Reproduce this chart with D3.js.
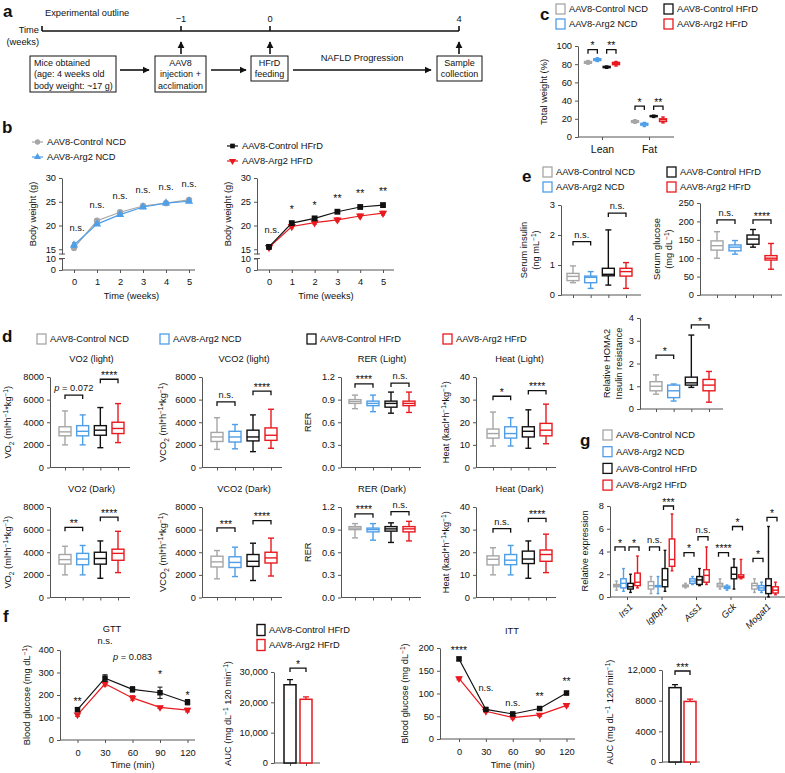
<!DOCTYPE html>
<html><head><meta charset="utf-8">
<script src="https://cdn.jsdelivr.net/npm/d3@7"></script>
<style>body{margin:0;background:#fff}</style>
</head><body>
<svg id="fig" width="785" height="773"></svg>
<script>
// ================= DATA =================
const groups=["AAV8-Control NCD","AAV8-Arg2 NCD","AAV8-Control HFrD","AAV8-Arg2 HFrD"];
const groupColors=["#a6a6a6","#4f9ee8","#111111","#e8191f"];

// panel a – timeline
const timeMarks=["−1","0","4"];

// panel b – body weight (g)
const weeks=[0,1,2,3,4,5];
const bwCtrlNCD=[15.3,21.0,22.8,24.1,24.7,25.4];
const bwArg2NCD=[15.9,20.3,22.3,23.9,24.7,25.1];
const bwCtrlHFrD=[15.5,20.5,21.5,22.9,23.9,24.3];
const bwArg2HFrD=[15.4,19.8,20.6,21.2,22.0,22.6];
const bwErrCtrlNCD=[0.5,0.3,0.3,0.3,0.3,0.3];
const bwErrArg2NCD=[0.5,0.3,0.3,0.3,0.3,0.3];
const bwErrCtrlHFrD=[0.5,0.3,0.3,0.3,0.3,0.3];
const bwErrArg2HFrD=[0.4,0.3,0.4,0.4,0.4,0.4];
const bwSigNCD=["n.s.","n.s.","n.s.","n.s.","n.s.","n.s."];
const bwSigHFrD=["n.s.","*","*","**","**","**"];

// panel c – body composition [min,q1,median,q3,max]
const compCats=["Lean","Fat"];
const compLean=[[80,81,82,83,84],[83,84,85,86,87],[75.5,76.2,77,77.6,78],[78,79.5,81,82,83]];
const compFat=[[15,16,17,18,19],[11.5,13,14,15,16],[21.5,22.3,23,23.5,24],[15.5,17,19,20,22]];
const compLeanSig=[[0,1,96,"*"],[2,3,96,"**"]];
const compFatSig=[[0,1,34,"*"],[2,3,34,"**"]];

// panel d – metabolic cages
const vo2Light=[[2000,2800,3150,3600,5000],[2000,2800,3200,3700,4650],[1750,2850,3300,3700,5300],[2200,3000,3450,4000,5650]];
const vco2Light=[[1600,2300,2700,3100,4400],[1650,2250,2700,3200,3800],[1400,2350,2700,3300,4650],[1700,2400,2850,3500,5150]];
const rerLight=[[0.78,0.85,0.875,0.90,0.96],[0.74,0.82,0.85,0.88,0.96],[0.72,0.80,0.85,0.88,1.0],[0.73,0.82,0.85,0.88,1.0]];
const heatLight=[[9.5,13,15,17,24.5],[9.5,13,15,18,22],[8.5,13.5,16,18,25.5],[10.5,14,16.5,19.5,28]];
const vo2Dark=[[2000,2950,3350,3800,4530],[2000,2900,3400,3900,4600],[1700,2950,3450,4000,5000],[2200,3290,3900,4270,5850]];
const vco2Dark=[[1650,2700,3150,3650,4150],[1850,2650,3100,3600,4450],[1500,2750,3200,3800,4800],[1900,3050,3500,4000,5250]];
const rerDark=[[0.79,0.90,0.92,0.94,0.98],[0.76,0.87,0.90,0.92,0.98],[0.73,0.88,0.91,0.94,0.99],[0.75,0.87,0.91,0.94,1.01]];
const heatDark=[[10,14.4,16.9,18.4,22],[10,14.5,16.5,19,23],[8.5,15,17,20.5,25],[11,16,19,21,28]];
const vo2LightSig=[[0,1,6400,"p = 0.072"],[2,3,7800,"****"]];
const vco2LightSig=[[0,1,5800,"n.s."],[2,3,6750,"****"]];
const rerLightSig=[[0,1,1.11,"****"],[2,3,1.12,"n.s."]];
const heatLightSig=[[0,1,31.5,"*"],[2,3,34,"****"]];
const vo2DarkSig=[[0,1,6200,"**"],[2,3,7100,"****"]];
const vco2DarkSig=[[0,1,6150,"***"],[2,3,6800,"****"]];
const rerDarkSig=[[0,1,1.11,"****"],[2,3,1.14,"n.s."]];
const heatDarkSig=[[0,1,30.4,"n.s."],[2,3,35,"****"]];

// panel e
const insulin=[[0.41,0.48,0.62,0.72,0.97],[0.22,0.41,0.59,0.63,0.78],[0.33,0.64,0.69,0.89,2.17],[0.22,0.63,0.78,0.89,1.08]];
const insulinSig=[[0,1,1.78,"n.s."],[2,3,2.73,"n.s."]];
const glucose=[[100,122,134,147,172],[111,120,130,136,148],[130,138,152,163,178],[70,95,100,107,140]];
const glucoseSig=[[0,1,204,"n.s."],[2,3,204,"****"]];
const homa2=[[0.65,0.8,1.0,1.2,1.5],[0.35,0.5,0.8,1.05,1.1],[0.95,1.05,1.15,1.4,3.25],[0.3,0.8,1.05,1.3,1.65]];
const homa2Sig=[[0,1,2.37,"*"],[2,3,3.7,"*"]];

// panel g – relative expression
const genes=["Irs1","Igfbp1","Ass1","Gck","Mogat1"];
const irs1=[[0.6,0.9,1.0,1.1,1.4],[0.5,0.8,1.2,1.6,2.5],[0.4,0.7,0.9,1.2,2.0],[0.8,1.0,1.3,2.1,3.6]];
const igfbp1=[[0.3,0.7,1.0,1.35,1.8],[0.3,0.9,0.95,1.0,1.8],[0.5,0.9,1.5,2.5,4.1],[2.3,2.7,3.3,5.1,7.3]];
const ass1=[[0.8,0.9,1.0,1.05,1.2],[1.1,1.2,1.4,1.6,1.8],[1.0,1.1,1.5,1.8,2.5],[1.1,1.3,1.9,2.4,4.4]];
const gck=[[0.7,0.9,1.05,1.2,1.6],[0.6,0.75,0.85,0.95,1.05],[0.7,1.6,2.0,2.6,3.35],[1.6,1.7,1.8,1.95,3.3]];
const mogat1=[[0.4,0.7,1.0,1.2,1.6],[0.4,0.6,0.8,1.0,1.3],[0.0,0.3,1.0,1.6,6.2],[0.2,0.35,0.6,0.9,1.3]];
const geneSig=[[[0,1,4.4,"*"],[2,3,4.4,"*"]],[[0,1,4.4,"n.s."],[2,3,8.0,"***"]],[[0,1,3.9,"*"],[2,3,5.3,"n.s."]],[[0,1,3.9,"****"],[2,3,6.2,"*"]],[[0,1,3.4,"*"],[2,3,7.0,"*"]]];

// panel f
const minutes=[0,30,60,90,120];
const gttCtrl=[135,275,225,210,168], gttCtrlErr=[8,15,12,25,12];
const gttArg2=[112,250,187,145,133], gttArg2Err=[7,10,10,5,8];
const gttSig=["**","n.s.","p = 0.083","*","*"], gttSigAt=[185,440,370,305,210];
const aucGtt=[25800,21000], aucGttErr=[1700,800], aucGttSig=[31300,"*"];
const ittCtrl=[176,65,55,67,101], ittCtrlErr=[4,3,4,3,4];
const ittArg2=[133,61,47,53,74], ittArg2Err=[3,2,3,3,3];
const ittSig=["****","n.s.","n.s.","**","**"], ittSigAt=[202,113,79,101,134];
const aucItt=[9700,7900], aucIttErr=[400,300], aucIttSig=[11870,"***"];

// ================= DRAWING =================
const FONT='"Liberation Sans", Arial, Helvetica, sans-serif';
const FS=9.3, INK="#111111";
const svg=d3.select("#fig");
const root=svg.append("g").attr("font-family",FONT).attr("fill",INK);
const LW=1.4;

function T(g,x,y,s,o={}){
  const sz=o.size||FS;
  const t=g.append("text").attr("x",x).attr("y",y+sz*0.35).attr("font-size",sz).attr("text-anchor",o.anchor||"start")
    .attr("fill",o.fill||INK).attr("stroke","none");
  if(o.bold)t.attr("font-weight","bold");
  if(o.italic)t.attr("font-style","italic");
  if(o.rot)t.attr("transform",`rotate(${o.rot},${x},${y})`);
  t.text(s);return t;
}
function R(g,x,y,parts,o={}){
  const size=o.size||FS;
  const t=g.append("text").attr("font-size",size).attr("text-anchor",o.anchor||"middle").attr("fill",INK).attr("stroke","none")
    .attr("transform",`translate(${x},${y})`+(o.rot?` rotate(${o.rot})`:"")).attr("y",size*0.35);
  let cur=0;
  parts.forEach(p=>{
    let s=p,tgt=0,fs=size,it=false;
    if(Array.isArray(p)){
      if(p[0]==="^"){tgt=-size*0.4;fs=size*0.7;}
      else if(p[0]==="_"){tgt=size*0.25;fs=size*0.7;}
      else if(p[0]==="i"){it=true;}
      s=p[1];
    }
    const sp=t.append("tspan").attr("dy",tgt-cur).attr("font-size",fs).text(s);
    if(it)sp.attr("font-style","italic");
    cur=tgt;
  });
  return t;
}
function styleAxis(a){
  a.attr("font-family",FONT).attr("font-size",FS);
  a.selectAll("path,line").attr("stroke","#555").attr("stroke-width",1);
  a.selectAll("text").attr("fill",INK);
}
function yAxis(g,scale,x,ticks,fmt){
  const a=g.append("g").attr("transform",`translate(${x},0)`)
    .call(d3.axisLeft(scale).tickValues(ticks).tickFormat(fmt).tickSize(3).tickSizeOuter(0).tickPadding(3));
  styleAxis(a);return a;
}
function xBase(g,scale,keys,ax,xEnd,y0){
  const a=g.append("g").attr("transform",`translate(0,${y0})`)
    .call(d3.axisBottom(scale).tickValues(keys).tickSize(3).tickFormat(""));
  styleAxis(a);a.select(".domain").remove();
  g.append("line").attr("x1",ax).attr("x2",xEnd).attr("y1",y0).attr("y2",y0).attr("stroke","#555");
  return a;
}
function sigLabel(g,x,yc,label){
  if(label.startsWith("p =")){
    R(g,x,yc,[["i","p"]," = "+label.slice(4)]);
  } else if(label.startsWith("*")){
    T(g,x,yc+3,label,{anchor:"middle",size:10.5});
  } else T(g,x,yc,label,{anchor:"middle"});
}
function bracket(g,xa,xb,yv,label,leg=4){
  g.append("path").attr("d",`M${xa},${yv+leg}V${yv}H${xb}V${yv+leg}`)
    .attr("fill","none").attr("stroke",INK).attr("stroke-width",1.3);
  sigLabel(g,(xa+xb)/2,yv-7,label);
}
function drawBoxes(g,xs,keys,y,stats,bw){
  stats.forEach((s,i)=>{
    const cx=xs(keys[i]),col=groupColors[i];
    const [mn,q1,md,q3,mx]=s;
    const b=g.append("g").attr("stroke",col).attr("stroke-width",LW).attr("fill","none");
    b.append("line").attr("x1",cx).attr("x2",cx).attr("y1",y(mx)).attr("y2",y(q3));
    b.append("line").attr("x1",cx).attr("x2",cx).attr("y1",y(q1)).attr("y2",y(mn));
    b.append("line").attr("x1",cx-bw/4).attr("x2",cx+bw/4).attr("y1",y(mx)).attr("y2",y(mx));
    b.append("line").attr("x1",cx-bw/4).attr("x2",cx+bw/4).attr("y1",y(mn)).attr("y2",y(mn));
    b.append("rect").attr("x",cx-bw/2).attr("y",y(q3)).attr("width",bw).attr("height",Math.max(0.5,y(q1)-y(q3))).attr("fill","#fff");
    b.append("line").attr("x1",cx-bw/2).attr("x2",cx+bw/2).attr("y1",y(md)).attr("y2",y(md));
  });
}
function legendBox(g,x,yc,i,label,w=9,h=10){
  g.append("rect").attr("x",x).attr("y",yc-h/2).attr("width",w).attr("height",h)
   .attr("fill","#fff").attr("stroke",groupColors[i]).attr("stroke-width",1.3);
  T(g,x+w+4,yc,label);
}
function letter(x,y,s){T(root,x,y,s,{size:17,bold:true});}

function boxPanel(o){
  const g=root.append("g");
  const y=d3.scaleLinear().domain(o.domain).range([o.yBot,o.yTop]);
  const xs=d3.scalePoint().domain(groups).range([o.x0,o.x1]);
  yAxis(g,y,o.ax,o.ticks,o.fmt);
  xBase(g,xs,groups,o.ax,o.xEnd,o.yBot);
  drawBoxes(g,xs,groups,y,o.stats,o.bw);
  o.sig.forEach(s=>bracket(g,xs(groups[s[0]]),xs(groups[s[1]]),y(s[2]),s[3]));
  if(o.title)T(g,(o.x0+o.x1)/2,o.yTop-18,o.title,{anchor:"middle"});
  if(o.ylab)o.ylab.forEach((l,k)=>R(g,o.lblX[k],(o.yTop+o.yBot)/2,l,{rot:-90}));
  return g;
}

// ---------- panel a ----------
(function(){
  const g=root.append("g");
  letter(3,11,"a");
  T(g,45,13,"Experimental outline");
  const tl=d3.scaleOrdinal().domain(timeMarks).range([181,270,459]);
  const yT=31;
  g.append("line").attr("x1",42).attr("x2",459).attr("y1",yT).attr("y2",yT).attr("stroke",INK).attr("stroke-width",1.6);
  g.append("line").attr("x1",42).attr("x2",42).attr("y1",yT).attr("y2",yT-5).attr("stroke",INK).attr("stroke-width",1.6);
  T(g,39,30,"Time",{anchor:"end"});
  T(g,39,42,"(weeks)",{anchor:"end"});
  g.append("defs").html('<marker id="ah" viewBox="0 0 10 10" refX="9" refY="5" markerWidth="4.5" markerHeight="4.5" orient="auto"><path d="M0,0L10,5L0,10z" fill="#111"/></marker>');
  timeMarks.forEach(k=>{
    const x=tl(k);
    g.append("line").attr("x1",x).attr("x2",x).attr("y1",yT).attr("y2",yT-5).attr("stroke",INK).attr("stroke-width",1.6);
    T(g,x,19,k,{anchor:"middle"});
    g.append("line").attr("x1",x).attr("x2",x).attr("y1",54).attr("y2",42).attr("stroke",INK).attr("stroke-width",1.6).attr("marker-end","url(#ah)");
  });
  const box=(x,y,w,h)=>g.append("rect").attr("x",x).attr("y",y).attr("width",w).attr("height",h).attr("fill","none").attr("stroke",INK).attr("stroke-width",1);
  box(30,56,86,36);
  ["Mice obtained","(age: 4 weeks old","body weight: ~17 g)"].forEach((s,i)=>T(g,34,63+i*11.3,s,{size:9}));
  box(155,56,51,36);
  ["AAV8","injection +","acclimation"].forEach((s,i)=>T(g,180.5,63+i*11.3,s,{anchor:"middle",size:9}));
  box(251,56,37,25);
  ["HFrD","feeding"].forEach((s,i)=>T(g,269.5,63+i*11.3,s,{anchor:"middle",size:9}));
  box(437,56,45,25);
  ["Sample","collection"].forEach((s,i)=>T(g,459.5,63+i*11.3,s,{anchor:"middle",size:9}));
  const arr=(x1,x2,y)=>g.append("line").attr("x1",x1).attr("x2",x2).attr("y1",y).attr("y2",y).attr("stroke",INK).attr("stroke-width",1.6).attr("marker-end","url(#ah)");
  arr(120,149,70);arr(211,246,70);arr(293,431,70);
  T(g,362,58,"NAFLD Progression",{anchor:"middle"});
})();

// ---------- panel b ----------
function bodyWeight(ax,xr,xEnd,series,sig,lblX){
  const g=root.append("g");
  const x=d3.scaleLinear().domain([0,5]).range(xr);
  const yU=d3.scaleLinear().domain([14,30]).range([254,178]);
  const yL=d3.scaleLinear().domain([0,10]).range([270,258.5]);
  yAxis(g,yU,ax,[15,20,25,30],d3.format("d"));
  yAxis(g,yL,ax,[0,10],d3.format("d"));
  g.append("line").attr("x1",ax-3).attr("x2",ax+3).attr("y1",254).attr("y2",254).attr("stroke","#555");
  g.append("line").attr("x1",ax-3).attr("x2",ax+3).attr("y1",258.5).attr("y2",258.5).attr("stroke","#555");
  const xa=g.append("g").attr("transform","translate(0,270)").call(d3.axisBottom(x).tickValues(weeks).tickSize(3).tickPadding(5).tickFormat(d3.format("d")));
  styleAxis(xa);xa.select(".domain").remove();
  g.append("line").attr("x1",ax).attr("x2",xEnd).attr("y1",270).attr("y2",270).attr("stroke","#555");
  T(g,x(2.5),296,"Time (weeks)",{anchor:"middle"});
  R(g,lblX,214,["Body weight (g)"],{rot:-90});
  series.forEach(s=>{
    const col=groupColors[s.ci];
    g.append("path").datum(weeks).attr("fill","none").attr("stroke",col).attr("stroke-width",1.2)
      .attr("d",d3.line().x(d=>x(d)).y((d,i)=>yU(s.v[i])));
    weeks.forEach((w,i)=>{
      const cx=x(w),y1=yU(s.v[i]+s.e[i]),y2=yU(s.v[i]-s.e[i]);
      g.append("path").attr("d",`M${cx-2},${y1}H${cx+2}M${cx},${y1}V${y2}M${cx-2},${y2}H${cx+2}`).attr("stroke",col).attr("stroke-width",1).attr("fill","none");
      g.append("path").attr("d",d3.symbol().type(s.sym).size(s.size)())
        .attr("transform",`translate(${cx},${yU(s.v[i])})`+(s.flip?" rotate(180)":"")).attr("fill",col);
    });
  });
  weeks.forEach((w,i)=>{
    const top=d3.max(series,s=>s.v[i]+s.e[i]);
    sigLabel(g,x(w)+(i===0?3:0),yU(top)-15,sig[i]);
  });
}
bodyWeight(62,[74,189],195,[
  {v:bwCtrlNCD,e:bwErrCtrlNCD,ci:0,sym:d3.symbolCircle,size:32},
  {v:bwArg2NCD,e:bwErrArg2NCD,ci:1,sym:d3.symbolTriangle,size:30}],bwSigNCD,33);
bodyWeight(257,[269,383],394,[
  {v:bwArg2HFrD,e:bwErrArg2HFrD,ci:3,sym:d3.symbolTriangle,size:30,flip:true},
  {v:bwCtrlHFrD,e:bwErrCtrlHFrD,ci:2,sym:d3.symbolSquare,size:34}],bwSigHFrD,228);
letter(2,127,"b");
(function(){
  const g=root.append("g");
  const leg=(x,yc,ci,sym,flip,label)=>{
    g.append("line").attr("x1",x).attr("x2",x+11).attr("y1",yc).attr("y2",yc).attr("stroke",groupColors[ci]).attr("stroke-width",1.2);
    g.append("path").attr("d",d3.symbol().type(sym).size(22)()).attr("transform",`translate(${x+5.5},${yc})`+(flip?" rotate(180)":"")).attr("fill",groupColors[ci]);
    T(g,x+15,yc,label);
  };
  leg(32,142,0,d3.symbolCircle,false,groups[0]);
  leg(32,157,1,d3.symbolTriangle,false,groups[1]);
  leg(227,146,2,d3.symbolSquare,false,groups[2]);
  leg(227,161,3,d3.symbolTriangle,true,groups[3]);
})();

// ---------- panel c ----------
(function(){
  const g=root.append("g");
  letter(540,14,"c");
  legendBox(g,556,9,0,groups[0]);legendBox(g,556,24,1,groups[1]);
  legendBox(g,664,9,2,groups[2]);legendBox(g,664,24,3,groups[3]);
  const y=d3.scaleLinear().domain([0,100]).range([137,46]);
  const xc=d3.scalePoint().domain(compCats).range([602,649]);
  const xi=d3.scalePoint().domain(groups).range([-14,14]);
  yAxis(g,y,578,[0,20,40,60,80,100],d3.format("d"));
  const xa=g.append("g").attr("transform","translate(0,137)").call(d3.axisBottom(xc).tickSize(3).tickPadding(6));
  styleAxis(xa);xa.select(".domain").remove();
  xa.selectAll("text").attr("font-size",10.5);
  g.append("line").attr("x1",578).attr("x2",674).attr("y1",137).attr("y2",137).attr("stroke","#555");
  R(g,544,92,["Total weight (%)"],{rot:-90});
  [[compLean,compLeanSig,"Lean"],[compFat,compFatSig,"Fat"]].forEach(([st,sg,c])=>{
    const xs=k=>xc(c)+xi(k);
    drawBoxes(g,xs,groups,y,st,7);
    sg.forEach(s=>bracket(g,xs(groups[s[0]]),xs(groups[s[1]]),y(s[2]),s[3]));
  });
})();

// ---------- panel d ----------
(function(){
  const g=root.append("g");
  letter(2,336,"d");
  legendBox(g,37,339,0,groups[0]);legendBox(g,160,339,1,groups[1]);
  legendBox(g,307,339,2,groups[2]);legendBox(g,443,339,3,groups[3]);
  const rows=[{yTop:377,yBot:467.5},{yTop:507,yBot:597.5}];
  const cols=[{ax:50,x0:65,x1:118,lbl:8},{ax:202,x0:217,x1:271,lbl:163},{ax:341,x0:355,x1:409,lbl:308},{ax:476,x0:493,x1:546,lbl:446}];
  const vo2Lab=["VO",["_","2"]," (ml*h",["^","−1"],"*kg",["^","−1"],")"];
  const vco2Lab=["VCO",["_","2"]," (ml*h",["^","−1"],"*kg",["^","−1"],")"];
  const heatLab=["Heat (kacl*h",["^","−1"],"*kg",["^","−1"],")"];
  const big={domain:[0,8000],ticks:[0,2000,4000,6000,8000],fmt:d3.format("d")};
  const rer={domain:[0,1.2],ticks:[0,0.3,0.6,0.9,1.2],fmt:d3.format(".1f")};
  const heat={domain:[0,40],ticks:[0,10,20,30,40],fmt:d3.format("d")};
  const spec=[
    [[vo2Light,vo2LightSig,"VO2 (light)",big,vo2Lab],[vco2Light,vco2LightSig,"VCO2 (light)",big,vco2Lab],[rerLight,rerLightSig,"RER (Light)",rer,["RER"]],[heatLight,heatLightSig,"Heat (Light)",heat,heatLab]],
    [[vo2Dark,vo2DarkSig,"VO2 (Dark)",big,vo2Lab],[vco2Dark,vco2DarkSig,"VCO2 (Dark)",big,vco2Lab],[rerDark,rerDarkSig,"RER (Dark)",rer,["RER"]],[heatDark,heatDarkSig,"Heat (Dark)",heat,heatLab]]];
  spec.forEach((row,ri)=>row.forEach((c,ci)=>{
    const r=rows[ri],k=cols[ci];
    boxPanel({domain:c[3].domain,ticks:c[3].ticks,fmt:c[3].fmt,yTop:r.yTop,yBot:r.yBot,ax:k.ax,x0:k.x0,x1:k.x1,xEnd:k.ax+80,
      stats:c[0],sig:c[1],title:c[2],bw:12,ylab:[c[4]],lblX:[k.lbl]});
  }));
})();

// ---------- panel e ----------
(function(){
  const g=root.append("g");
  letter(522,176,"e");
  legendBox(g,543,172,0,groups[0]);legendBox(g,543,187,1,groups[1]);
  legendBox(g,667,172,2,groups[2]);legendBox(g,667,187,3,groups[3]);
  boxPanel({domain:[0,3],ticks:[0,1,2,3],fmt:d3.format("d"),yTop:205,yBot:295,ax:561,x0:573,x1:626,xEnd:641,
    stats:insulin,sig:insulinSig,bw:12,ylab:[["Serum insulin"],["(ng mL",["^","−1"],")"]],lblX:[524,536]});
  boxPanel({domain:[0,250],ticks:[0,50,100,150,200,250],fmt:d3.format("d"),yTop:203,yBot:295,ax:700,x0:717,x1:771,xEnd:782,
    stats:glucose,sig:glucoseSig,bw:12,ylab:[["Serum glucose"],["(mg dL",["^","−1"],")"]],lblX:[657,669]});
  boxPanel({domain:[0,4],ticks:[0,1,2,3,4],fmt:d3.format("d"),yTop:318,yBot:409,ax:640,x0:656,x1:709,xEnd:723,
    stats:homa2,sig:homa2Sig,bw:12,ylab:[["Relative HOMA2"],["Insulin resistance"]],lblX:[607,619]});
})();

// ---------- panel g ----------
(function(){
  const g=root.append("g");
  letter(580,440,"g");
  groups.forEach((gn,i)=>legendBox(g,603,435+i*16.7,i,gn));
  const y=d3.scaleLinear().domain([0,8]).range([597,506]);
  const gx=d3.scalePoint().domain(genes).range([627,765]);
  const gi=d3.scalePoint().domain(groups).range([-10.5,10.5]);
  yAxis(g,y,610,[0,2,4,6,8],d3.format("d"));
  xBase(g,gx,genes,610,785,597);
  R(g,585,551,["Relative expression"],{rot:-90});
  [irs1,igfbp1,ass1,gck,mogat1].forEach((st,k)=>{
    const xs=kk=>gx(genes[k])+gi(kk);
    drawBoxes(g,xs,groups,y,st,5.5);
    geneSig[k].forEach(s=>bracket(g,xs(groups[s[0]])-1.5,xs(groups[s[1]])+1.5,y(s[2]),s[3],4));
    T(g,gx(genes[k])+4,605,genes[k],{anchor:"end",italic:true,rot:-45});
  });
})();

// ---------- panel f ----------
function tolerance(o){
  const g=root.append("g");
  const x=d3.scaleLinear().domain([0,120]).range(o.xr);
  const y=d3.scaleLinear().domain(o.domain).range([o.yBot,o.yTop]);
  yAxis(g,y,o.ax,o.ticks,d3.format("d"));
  const xa=g.append("g").attr("transform",`translate(0,${o.yBot})`).call(d3.axisBottom(x).tickValues(minutes).tickSize(3).tickPadding(6));
  styleAxis(xa);xa.select(".domain").remove();
  g.append("line").attr("x1",o.ax).attr("x2",o.xEnd).attr("y1",o.yBot).attr("y2",o.yBot).attr("stroke","#555");
  T(g,x(60),765,"Time (min)",{anchor:"middle"});
  T(g,o.titleX,o.titleY,o.title,{anchor:"middle"});
  R(g,o.lblX,(o.yTop+o.yBot)/2,["Blood glucose (mg dL",["^","−1"],")"],{rot:-90});
  [[o.arg2,o.arg2Err,3,d3.symbolTriangle,true,26],[o.ctrl,o.ctrlErr,2,d3.symbolSquare,false,30]].forEach(([v,e,ci,sym,flip,sz])=>{
    const col=groupColors[ci];
    g.append("path").datum(minutes).attr("fill","none").attr("stroke",col).attr("stroke-width",1.2)
      .attr("d",d3.line().x(d=>x(d)).y((d,i)=>y(v[i])));
    minutes.forEach((m,i)=>{
      const cx=x(m),y1=y(v[i]+e[i]),y2=y(v[i]-e[i]);
      g.append("path").attr("d",`M${cx-2.5},${y1}H${cx+2.5}M${cx},${y1}V${y2}M${cx-2.5},${y2}H${cx+2.5}`).attr("stroke",col).attr("stroke-width",1).attr("fill","none");
      g.append("path").attr("d",d3.symbol().type(sym).size(sz)()).attr("transform",`translate(${cx},${y(v[i])})`+(flip?" rotate(180)":"")).attr("fill",col);
    });
  });
  o.sig.forEach((s,i)=>{
    const xx=s.startsWith("p =")?x(60):x(minutes[i]);
    sigLabel(g,xx,y(o.sigAt[i]),s);
  });
}
function aucChart(o){
  const g=root.append("g");
  const y=d3.scaleLinear().domain(o.domain).range([o.yBot,o.yTop]);
  const xs=d3.scalePoint().domain(["ctrl","arg2"]).range(o.xr);
  const fmt=d=>d>=10000?d3.format(",")(d):d3.format("d")(d);
  yAxis(g,y,o.ax,o.ticks,fmt);
  xBase(g,xs,["ctrl","arg2"],o.ax,o.xEnd,o.yBot);
  R(g,o.lblX,(o.yTop+o.yBot)/2-4,["AUC (mg dL",["^","−1"]," 120 min",["^","−1"],")"],{rot:-90});
  ["ctrl","arg2"].forEach((k,i)=>{
    const col=groupColors[i+2],cx=xs(k),bw=12;
    g.append("rect").attr("x",cx-bw/2).attr("y",y(o.v[i])).attr("width",bw).attr("height",y(0)-y(o.v[i]))
      .attr("fill","#fff").attr("stroke",col).attr("stroke-width",1.5);
    const ye=y(o.v[i]+o.e[i]);
    g.append("path").attr("d",`M${cx},${y(o.v[i])}V${ye}M${cx-3},${ye}H${cx+3}`).attr("stroke",col).attr("stroke-width",1.3).attr("fill","none");
  });
  bracket(g,xs("ctrl"),xs("arg2"),y(o.sig[0]),o.sig[1]);
}
letter(3,616,"f");
tolerance({ax:60,xr:[77.5,187.5],xEnd:195,domain:[0,400],ticks:[0,100,200,300,400],yTop:650,yBot:740,
  title:"GTT",titleX:112,titleY:629,lblX:27,ctrl:gttCtrl,ctrlErr:gttCtrlErr,arg2:gttArg2,arg2Err:gttArg2Err,sig:gttSig,sigAt:gttSigAt});
aucChart({ax:274,xr:[290,306],xEnd:320,domain:[0,30000],ticks:[0,10000,20000,30000],yTop:672,yBot:763,lblX:228,v:aucGtt,e:aucGttErr,sig:aucGttSig});
tolerance({ax:440,xr:[459,566.5],xEnd:575,domain:[0,200],ticks:[0,50,100,150,200],yTop:648,yBot:739,
  title:"ITT",titleX:512,titleY:631,lblX:405,ctrl:ittCtrl,ctrlErr:ittCtrlErr,arg2:ittArg2,arg2Err:ittArg2Err,sig:ittSig,sigAt:ittSigAt});
aucChart({ax:662,xr:[675,690],xEnd:700,domain:[0,12000],ticks:[0,4000,8000,12000],yTop:670,yBot:762,lblX:610,v:aucItt,e:aucIttErr,sig:aucIttSig});
(function(){
  const g=root.append("g");
  const lb=(yc,ci,label)=>{
    g.append("rect").attr("x",257).attr("y",yc-5.5).attr("width",8).attr("height",11).attr("fill","#fff").attr("stroke",groupColors[ci]).attr("stroke-width",1.4);
    T(g,269,yc,label);
  };
  lb(630,2,groups[2]);lb(645,3,groups[3]);
})();
</script></body></html>
